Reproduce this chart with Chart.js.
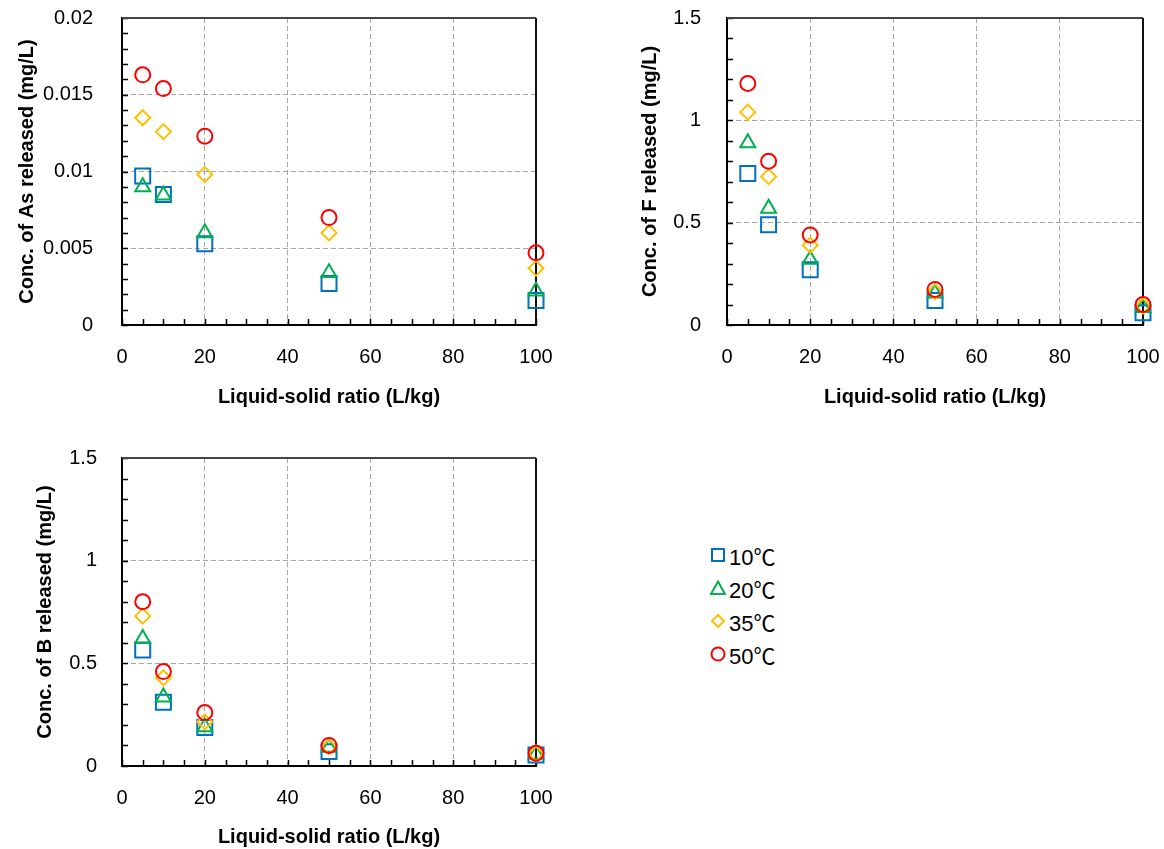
<!DOCTYPE html>
<html>
<head>
<meta charset="utf-8">
<script src="https://cdn.jsdelivr.net/npm/chart.js@4"></script>
<style>
  body { margin: 0; background: #fff; width: 1164px; height: 849px; position: relative; overflow: hidden; }
  canvas { position: absolute; }
  #legend { position: absolute; left: 710px; top: 538px; font: 22px "Liberation Sans", Arial, "Noto Sans CJK JP", sans-serif; color: #000; }
  #legend div { height: 33px; display: flex; align-items: center; }
  #legend svg { margin-right: 3px; }
</style>
</head>
<body>
<canvas id="chartAs" width="560" height="409" style="left:0;top:0"></canvas>
<canvas id="chartF" width="564" height="409" style="left:600px;top:0"></canvas>
<canvas id="chartB" width="560" height="409" style="left:0;top:440px"></canvas>
<div id="legend"></div>
<script>
// liquid-solid ratio (L/kg)
var lsRatio = [5, 10, 20, 50, 100];
var tempLabels = ['10℃', '20℃', '35℃', '50℃'];

// As (mg/L)
var as10 = [0.0097, 0.0085, 0.0053, 0.0027, 0.0016];
var as20 = [0.0090, 0.00845, 0.0060, 0.0034, 0.0022];
var as35 = [0.0135, 0.0126, 0.0098, 0.0060, 0.0037];
var as50 = [0.0163, 0.0154, 0.0123, 0.0070, 0.0047];

// F (mg/L)
var f10 = [0.74, 0.49, 0.27, 0.12, 0.06];
var f20 = [0.89, 0.57, 0.32, 0.155, 0.085];
var f35 = [1.04, 0.725, 0.39, 0.163, 0.093];
var f50 = [1.18, 0.80, 0.44, 0.174, 0.10];

// B (mg/L)
var b10 = [0.565, 0.31, 0.188, 0.07, 0.054];
var b20 = [0.62, 0.335, 0.19, 0.09, 0.058];
var b35 = [0.73, 0.43, 0.215, 0.094, 0.06];
var b50 = [0.80, 0.46, 0.26, 0.10, 0.062];

var colors = ['#0070C0', '#00B050', '#FFC000', '#FF0000'];
var styles = ['rect', 'triangle', 'rectRot', 'circle'];
var radii = [10.6, 8.6, 7.5, 7.5];

var tickFont = { family: '"Liberation Sans", Arial, sans-serif', size: 20 };
var titleFont = { family: '"Liberation Sans", Arial, sans-serif', size: 20, weight: 'bold' };

// frame: top/right edges plus inward minor ticks on the left and bottom axes
var frame = {
  id: 'frame',
  beforeDatasetsDraw: function (chart, args, opts) {
    var ctx = chart.ctx, a = chart.chartArea, x = chart.scales.x, y = chart.scales.y;
    ctx.save();
    ctx.strokeStyle = '#000';
    ctx.lineWidth = 1.5;
    ctx.beginPath();
    for (var v = x.min; v <= x.max + 1e-9; v += opts.xMinor) {
      var px = Math.round(x.getPixelForValue(v)) + 0.5;
      ctx.moveTo(px, a.bottom);
      ctx.lineTo(px, a.bottom - 6);
    }
    for (var k = 0; y.min + k * opts.yMinor <= y.max + 1e-9; k++) {
      var py = Math.round(y.getPixelForValue(y.min + k * opts.yMinor)) + 0.5;
      ctx.moveTo(a.left, py);
      ctx.lineTo(a.left + 6, py);
    }
    ctx.stroke();
    ctx.lineWidth = 2;
    ctx.strokeStyle = '#444';
    ctx.beginPath();
    ctx.moveTo(a.left, a.top);
    ctx.lineTo(a.right, a.top);
    ctx.stroke();
    ctx.strokeStyle = '#111';
    ctx.beginPath();
    ctx.moveTo(a.right, a.top);
    ctx.lineTo(a.right, a.bottom);
    ctx.stroke();
    ctx.restore();
  }
};

// tick labels may overhang the plot edges; keep the plot box fixed
function noOverhang(s) {
  s.paddingTop = 0;
  s.paddingBottom = 0;
  s.paddingLeft = 0;
  s.paddingRight = 0;
}

function makeDatasets(series) {
  return series.map(function (vals, i) {
    return {
      label: tempLabels[i],
      data: lsRatio.map(function (r, j) { return { x: r, y: vals[j] }; }),
      pointStyle: styles[i],
      pointRadius: radii[i],
      pointBorderColor: colors[i],
      pointBackgroundColor: 'rgba(0,0,0,0)',
      pointBorderWidth: 2,
      showLine: false,
      clip: false,
      order: 3 - i
    };
  });
}

function makeChart(id, series, o) {
  return new Chart(document.getElementById(id), {
    type: 'scatter',
    data: { datasets: makeDatasets(series) },
    options: {
      responsive: false,
      animation: false,
      layout: { padding: { top: 18, right: o.right, left: 0, bottom: 0 } },
      plugins: {
        legend: { display: false },
        tooltip: { enabled: false },
        frame: { xMinor: 5, yMinor: o.yMinor }
      },
      scales: {
        x: {
          type: 'linear', min: 0, max: 100,
          afterFit: function (s) { s.height = o.xHeight; noOverhang(s); },
          ticks: { stepSize: 20, color: '#000', font: tickFont, padding: 20 },
          grid: { color: '#a6a6a6', lineWidth: 1, drawTicks: false },
          border: { display: true, color: '#000', width: 2, dash: [5, 3] },
          title: { display: true, text: 'Liquid-solid ratio (L/kg)', color: '#000', font: titleFont, padding: { top: 0, bottom: 0 } }
        },
        y: {
          type: 'linear', min: 0, max: o.yMax,
          afterFit: function (s) { s.width = o.yWidth; noOverhang(s); },
          ticks: {
            stepSize: o.yStep, color: '#000', font: tickFont, padding: o.yPad,
            callback: function (v) { return String(+v.toFixed(4)); }
          },
          grid: { color: '#a6a6a6', lineWidth: 1, drawTicks: false },
          border: { display: true, color: '#000', width: 2, dash: [5, 3] },
          title: { display: true, text: o.yTitle, color: '#000', font: titleFont, padding: { top: o.yTitlePad, bottom: 0 } }
        }
      }
    },
    plugins: [frame]
  });
}

makeChart('chartAs', [as10, as20, as35, as50], {
  yMax: 0.02, yStep: 0.005, yMinor: 0.001, yTitle: 'Conc. of As released (mg/L)',
  yWidth: 122, yPad: 29, yTitlePad: 15, xHeight: 84, right: 24
});
makeChart('chartF', [f10, f20, f35, f50], {
  yMax: 1.5, yStep: 0.5, yMinor: 0.1, yTitle: 'Conc. of F released (mg/L)',
  yWidth: 127, yPad: 26, yTitlePad: 38, xHeight: 84, right: 21
});
makeChart('chartB', [b10, b20, b35, b50], {
  yMax: 1.5, yStep: 0.5, yMinor: 0.1, yTitle: 'Conc. of B released (mg/L)',
  yWidth: 122, yPad: 25, yTitlePad: 33, xHeight: 83, right: 24
});

// legend rows with the same marker shapes
var shapes = [
  '<rect x="2" y="2" width="12" height="12" fill="none" stroke="' + colors[0] + '" stroke-width="2"/>',
  '<polygon points="8,1.5 15,14 1,14" fill="none" stroke="' + colors[1] + '" stroke-width="2"/>',
  '<polygon points="8,2 14,8 8,14 2,8" fill="none" stroke="' + colors[2] + '" stroke-width="2"/>',
  '<circle cx="8" cy="8" r="6.5" fill="none" stroke="' + colors[3] + '" stroke-width="2"/>'
];
var legend = document.getElementById('legend');
tempLabels.forEach(function (t, i) {
  var row = document.createElement('div');
  row.innerHTML = '<svg width="16" height="16">' + shapes[i] + '</svg><span>' + t + '</span>';
  legend.appendChild(row);
});
</script>
</body>
</html>
